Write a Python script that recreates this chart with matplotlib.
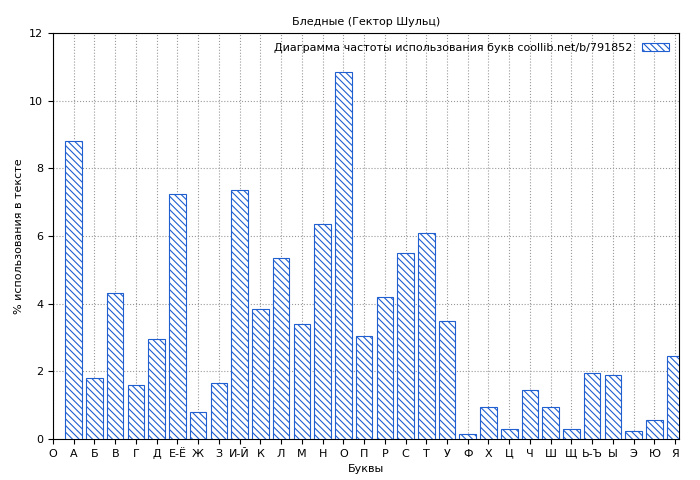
import matplotlib
matplotlib.use("Agg")
import matplotlib.pyplot as plt
import numpy as np

letters = ["А","Б","В","Г","Д","Е-Ё","Ж","З","И-Й","К","Л","М","Н","О","П","Р","С","Т","У","Ф","Х","Ц","Ч","Ш","Щ","Ь-Ъ","Ы","Э","Ю","Я"]
values = [8.8,1.8,4.3,1.6,2.95,7.25,0.8,1.65,7.35,3.85,5.35,3.4,6.35,10.85,3.05,4.2,5.5,6.1,3.5,0.15,0.95,0.3,1.45,0.95,0.3,1.95,1.9,0.25,0.55,2.45]
tick_labels = ["О"] + letters

plt.rcParams['hatch.color'] = '#1f5fd0'
plt.rcParams['hatch.linewidth'] = 0.8
fig = plt.figure(figsize=(7, 4.8), dpi=100)
ax = fig.add_axes([0.0757, 0.0854, 0.895, 0.846])
x = np.arange(1, len(letters) + 1)
ax.bar(x, values, width=0.8, facecolor='white', edgecolor='#1f5fd0', hatch='\\\\\\\\\\', linewidth=0.8,
       label='Диаграмма частоты использования букв coollib.net/b/791852', zorder=3)
ax.set_xlim(0, 29.8 + 0.4 + 0.01)
ax.set_ylim(0, 12)
ax.set_xticks(np.arange(0, len(tick_labels)))
ax.set_xticklabels(tick_labels, fontsize=8)
ax.set_yticks(np.arange(0, 13, 2))
ax.tick_params(axis='y', labelsize=8)
ax.grid(True, color='#999999', linestyle=':', linewidth=0.8, zorder=0)
ax.set_xlabel('Буквы', fontsize=8)
ax.set_ylabel('% использования в тексте', fontsize=8)
ax.set_title('Бледные (Гектор Шульц)', fontsize=8)
ax.legend(loc='upper right', fontsize=8, frameon=False, markerfirst=False, handlelength=2.5)
fig.savefig('out.png', dpi=100)
